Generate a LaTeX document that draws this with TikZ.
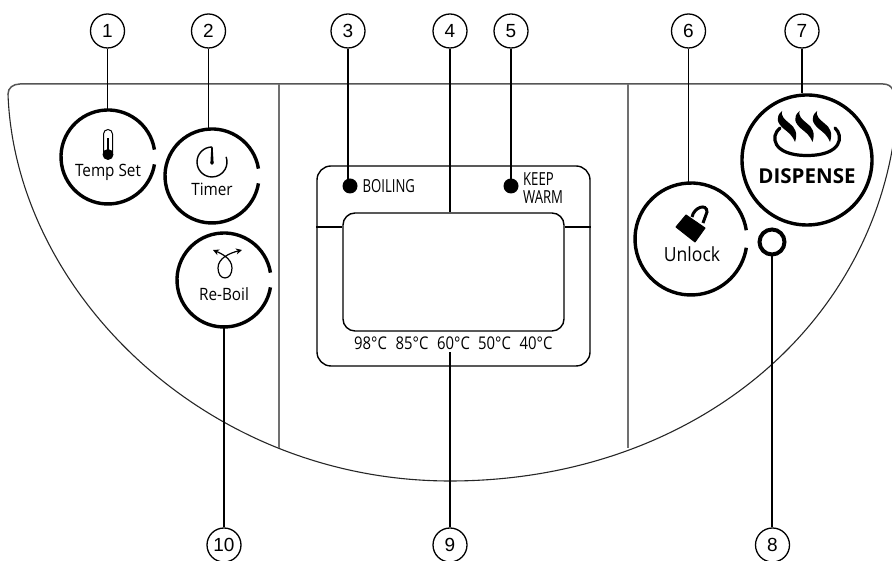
\documentclass[tikz,border=0pt]{standalone}
\usepackage{fontspec}
\setmainfont{Open Sans}
\newfontfamily\numfont{Liberation Sans}
\usetikzlibrary{arrows.meta,positioning}
\definecolor{panelgrey}{HTML}{555555}
\definecolor{dividergrey}{HTML}{707070}
\tikzset{
    numcircle/.style={draw, circle, line width=1.3pt, minimum size=34pt, inner sep=0pt, fill=white, font=\numfont\fontsize{19}{19}\selectfont},
    leader/.style={line width=1.4pt},
    btnring/.style={line width=3.4pt},
    btnbody/.style={circle, inner sep=0pt},
    btnlabel/.style={font=\fontsize{17}{17}\selectfont, xscale=.9, transform shape},
    narrowlabel/.style={font=\fontsize{18}{18}\selectfont, xscale=.73, transform shape, inner sep=0pt},
    templabel/.style={font=\fontsize{17.5}{17.5}\selectfont, xscale=.85, transform shape, inner sep=0pt},
    divider/.style={line width=1.6pt, dividergrey},
    lampdot/.style={circle, fill=black, minimum size=15pt, inner sep=0pt}
}
\begin{document}
\begin{tikzpicture}[x=1pt, y=1pt]
                \useasboundingbox (0,0) rectangle (892,561);
                % panel outline
                \draw[line width=1.5pt, panelgrey] (8,467) .. controls (8,473) and (13,477) .. (20,477) -- (883,477) .. controls (888,477) and (891,475) .. (893,471);
                \draw[line width=1.1pt, black!85] (8,467) .. controls (15,270) and (205,80) .. (450,80) .. controls (680,80) and (860,220) .. (893,416);
                \draw[divider] (279,477) -- (279,113);
                \draw[divider] (628,477) -- (628,113);
                % display
                \node[draw, line width=1.4pt, rounded corners=14pt, minimum width=273pt, minimum height=200pt, inner sep=0pt] (dispbox) at (453.5,295) {};
                \node[draw, line width=1.4pt, rounded corners=12pt, minimum width=221pt, minimum height=118pt, inner sep=0pt] (lcd) at (453.5,289) {};
                \coordinate (barmark) at (0,334);
                \draw[line width=1.4pt] (dispbox.west |- barmark) -- (lcd.west |- barmark);
                \draw[line width=1.4pt] (lcd.east |- barmark) -- (dispbox.east |- barmark);
                \node[lampdot] (dotboil) at (350,375) {};
                \node[lampdot] (dotwarm) at (511,375) {};
                \node[narrowlabel, anchor=west] (boiling) at (362.5,375) {BOILING};
                \node[narrowlabel, anchor=west] (keep) at (523,382) {KEEP};
                \node[narrowlabel, anchor=west] (warm) at (523,364) {WARM};
                \foreach \tname/\x/\tval in {ta/370.5/98, tb/412/85, tc/453.5/60, td/494.5/50, te/536/40}
                    \node[templabel] (\tname) at (\x,218) {\tval°C};
                \coordinate (tempmark) at (450,209);
                % buttons with a gap in the ring
                \foreach \name/\x/\y/\r in {tempset/108/404/47, timer/212/385/47, reboil/224/281/47, unlock/691/322/56} {
                    \node[btnbody, minimum size=2*\r pt] (\name) at (\x,\y) {};
                    \draw[btnring] ([shift={(9:\r)}]\name.center) arc (9:351:\r);
                }
                \node[btnbody, draw, line width=3.4pt, minimum size=130pt] (dispense) at (807,401) {};
                \node[circle, draw, line width=4pt, minimum size=25pt, inner sep=0pt] (ring) at (772,319) {};
                \node[btnlabel] (tempsetlabel) at (108,389) {Temp Set};
                \node[btnlabel] (timerlabel) at (212,372) {Timer};
                \node[btnlabel] (reboillabel) at (224,267) {Re-Boil};
                \node[btnlabel, font=\fontsize{19.5}{19.5}\selectfont] (unlocklabel) at (692,307) {Unlock};
                \node[font=\bfseries\fontsize{20.5}{20.5}\selectfont] (dispenselabel) at (807,385) {DISPENSE};
                % thermometer
                \draw[line width=1pt] (103.5,408) -- (103.5,427) arc (180:0:4.5) -- (112.5,408);
                \fill (106.7,407) rectangle (109.3,423);
                \fill (108,406.5) circle (5.5);
                % clock
                \draw[line width=1.4pt] (212,414) arc (90:380:15);
                \fill (211.3,414) -- (212.7,414) -- (213.6,398) -- (210.4,398) -- cycle;
                \fill (212,398) circle (1.8);
                % loop arrows
                \draw[line width=1.2pt, {Stealth[length=6pt,width=6pt]}-{Stealth[length=6pt,width=6pt]}] (213,311) .. controls (220,308) and (232,303) .. (232,293) .. controls (232,287) and (229,283) .. (225,283) .. controls (221,283) and (218,287) .. (218,293) .. controls (218,303) and (230,308) .. (242,311);
                % padlock
                \draw[fill=black, line width=1pt, line join=round] (676,334) -- (686,346) -- (705,333) -- (695,319) -- cycle;
                \draw[line width=3pt] (692,344) .. controls (694,354) and (707,358) .. (707,349) -- (703,338);
                % steam over the bowl
                \draw[line width=3.2pt, line cap=round] (780,433) .. controls (770,425) and (772,405.5) .. (807,405.5) .. controls (842,405.5) and (844,425) .. (835,433);
                \foreach \dx in {0,17.5,35}
                    \fill[xshift=\dx pt] (782,450) .. controls (775,444) and (777,438) .. (784,432) .. controls (789,428) and (792,426) .. (795,419) .. controls (798,428) and (795,434) .. (789,438) .. controls (784,442) and (781,445) .. (782,450) -- cycle;
                % numbered callouts
                \foreach \num/\x/\y in {1/107.5/530, 2/208.5/530, 3/348/530, 4/450/530, 5/511/530, 6/688.5/530, 7/802/530, 8/772.5/16, 9/450/16, 10/224/16}
                    \node[numcircle] (n\num) at (\x,\y) {\num};
                \draw[leader] (n1.south) -- (n1.south |- tempset.north);
                \draw[leader] (n2.south) -- (n2.south |- timer.north);
                \draw[leader] (n3.south) -- (n3.south |- dotboil.center);
                \draw[leader] (n4.south) -- (n4.south |- lcd.north);
                \draw[leader] (n5.south) -- (n5.south |- dotwarm.center);
                \draw[leader] (n6.south) -- (n6.south |- unlock.north);
                \draw[leader] (n7.south) -- (n7.south |- dispense.north);
                \draw[leader] (ring.south) -- (ring.south |- n8.north);
                \draw[leader] (n9.north) -- (tempmark);
                \draw[leader] (n10.north) -- (reboil.south);
\end{tikzpicture}
\end{document}
